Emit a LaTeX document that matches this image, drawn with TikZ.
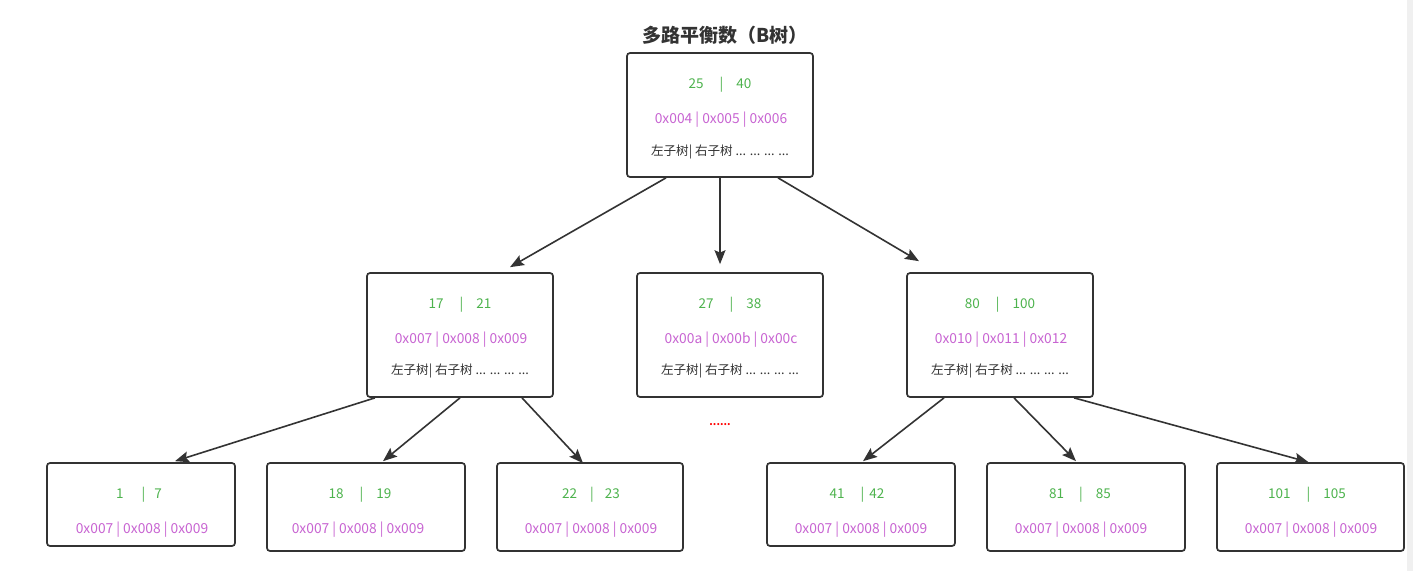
\documentclass[tikz,border=0pt]{standalone}
\usepackage{fontspec}
\newfontfamily\cjk{Noto Sans CJK SC}
\usetikzlibrary{arrows.meta}
\definecolor{edge}{HTML}{333333}
\definecolor{kgreen}{HTML}{4DB34D}
\definecolor{kpurple}{HTML}{C864D2}
\definecolor{ktext}{HTML}{333333}
\definecolor{strip}{HTML}{F0F0F0}
\tikzset{
  box/.style={draw=edge, line width=1.7pt, rounded corners=3pt, fill=white, inner sep=0pt},
  gt/.style={text=kgreen, font=\cjk\fontsize{13.5}{15}\selectfont, inner sep=0pt},
  pt/.style={text=kpurple, font=\cjk\fontsize{13.8}{15}\selectfont, inner sep=0pt},
  bt/.style={text=ktext, font=\cjk\fontsize{12.6}{14}\selectfont, inner sep=0pt},
  ttl/.style={text=ktext, font=\cjk\bfseries\fontsize{19}{22}\selectfont, inner sep=0pt},
  dots/.style={text=red, font=\cjk\bfseries\fontsize{10}{11}\selectfont, inner sep=0pt},
  arr/.style={draw=edge, line width=1.6pt, -{Stealth[length=14pt,width=11pt,inset=2.5pt]}},
  mid/.style={box, minimum width=186pt, minimum height=124pt},
  leafA/.style={box, minimum width=188pt, minimum height=83pt},
  leafB/.style={box, minimum width=198pt, minimum height=88pt}
}
\newcommand{\kv}[4]{#1\hspace{#2}|\hspace{#3}#4}
\begin{document}
\begin{tikzpicture}[x=1pt,y=-1pt]
\useasboundingbox (0,0) rectangle (1413,571);
\fill[white] (0,0) rectangle (1413,571);
\fill[strip] (1407,0) rectangle (1413,571);

\node[ttl] (title) at (725,35) {多路平衡数（B树）};

% level 0
\node[mid] (root) at (720,115) {};
\node[gt] (rootk) at (720,84.5) {\kv{25}{16pt}{13pt}{40}};
\node[pt] (rootp) at (721,120) {0x004 | 0x005 | 0x006};
\node[bt] (rootb) at (720,152) {左子树| 右子树 ... ... ... ...};

% level 1
\node[mid] (ml) at (460,335) {};
\node[gt] (mlk) at (460,304.5) {\kv{17}{16pt}{13pt}{21}};
\node[pt] (mlp) at (461,340) {0x007 | 0x008 | 0x009};
\node[bt] (mlb) at (460,371) {左子树| 右子树 ... ... ... ...};

\node[mid] (mc) at (730,335) {};
\node[gt] (mck) at (730,304.5) {\kv{27}{16pt}{13pt}{38}};
\node[pt] (mcp) at (731,340) {0x00a | 0x00b | 0x00c};
\node[bt] (mcb) at (730,371) {左子树| 右子树 ... ... ... ...};

\node[mid] (mr) at (1000,335) {};
\node[gt] (mrk) at (1000,304.5) {\kv{80}{16pt}{13pt}{100}};
\node[pt] (mrp) at (1001,340) {0x010 | 0x011 | 0x012};
\node[bt] (mrb) at (1000,371) {左子树| 右子树 ... ... ... ...};

\node[dots] (more) at (720,425) {......};

% level 2
\node[leafA] (l1) at (141,504.5) {};
\node[gt] (l1k) at (139,494.5) {\kv{1}{18pt}{9pt}{7}};
\node[pt] (l1p) at (142,530) {0x007 | 0x008 | 0x009};

\node[leafB] (l2) at (366,507) {};
\node[gt] (l2k) at (360,494.5) {\kv{18}{16pt}{13pt}{19}};
\node[pt] (l2p) at (358,530) {0x007 | 0x008 | 0x009};

\node[leafA, minimum width=186pt, minimum height=88pt] (l3) at (590,507) {};
\node[gt] (l3k) at (591,494.5) {\kv{22}{13pt}{11pt}{23}};
\node[pt] (l3p) at (591,530) {0x007 | 0x008 | 0x009};

\node[leafA] (l4) at (861,504.5) {};
\node[gt] (l4k) at (857,494.5) {\kv{41}{16pt}{5pt}{42}};
\node[pt] (l4p) at (861,530) {0x007 | 0x008 | 0x009};

\node[leafB] (l5) at (1086,507) {};
\node[gt] (l5k) at (1080,494.5) {\kv{81}{15pt}{13pt}{85}};
\node[pt] (l5p) at (1081,530) {0x007 | 0x008 | 0x009};

\node[leafA, minimum width=187pt, minimum height=88pt] (l6) at (1310.5,507) {};
\node[gt] (l6k) at (1307,494.5) {\kv{101}{16pt}{13pt}{105}};
\node[pt] (l6p) at (1311,530) {0x007 | 0x008 | 0x009};

% connectors
\draw[arr] ([xshift=-54pt]root.south) -- ([xshift=50pt,yshift=5pt]ml.north);
\draw[arr] (root.south) -- ([xshift=-10pt,yshift=8pt]mc.north);
\draw[arr] ([xshift=58pt]root.south) -- ([xshift=-81pt,yshift=11pt]mr.north);

\draw[arr] ([xshift=-85pt]ml.south) -- ([xshift=34pt,yshift=1pt]l1.north);
\draw[arr] (ml.south) -- ([xshift=17pt,yshift=1pt]l2.north);
\draw[arr] ([xshift=62pt]ml.south) -- ([xshift=-7pt,yshift=-1pt]l3.north);

\draw[arr] ([xshift=-56pt]mr.south) -- ([xshift=2pt,yshift=1pt]l4.north);
\draw[arr] ([xshift=14pt]mr.south) -- ([xshift=-10pt,yshift=1pt]l5.north);
\draw[arr] ([xshift=74pt]mr.south) -- ([xshift=-2pt]l6.north);
\end{tikzpicture}
\end{document}
